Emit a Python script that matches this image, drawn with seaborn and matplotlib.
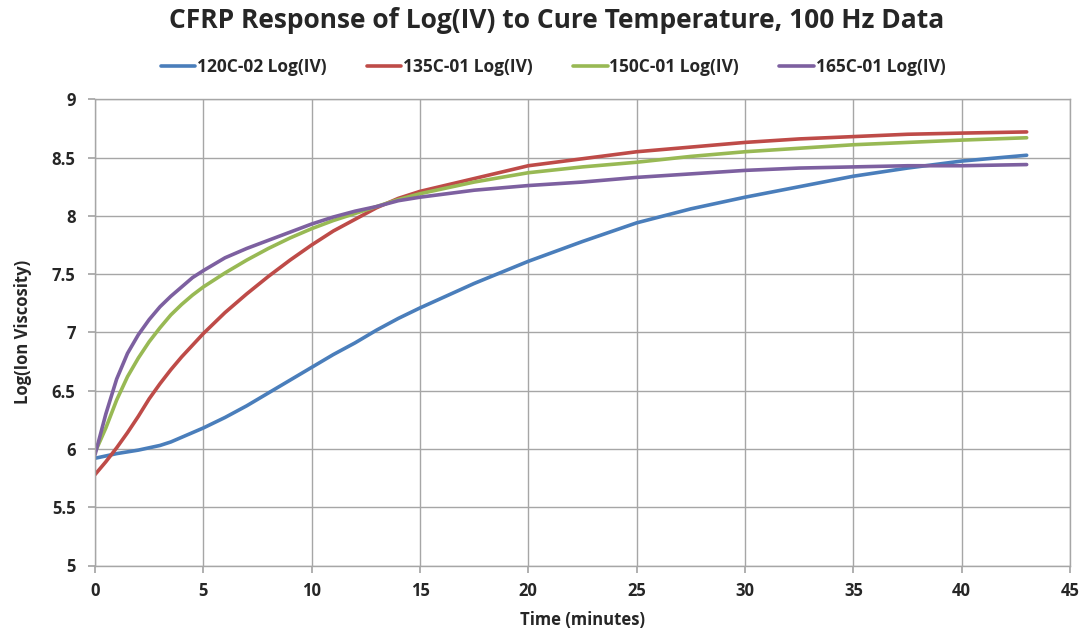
import matplotlib
matplotlib.use("Agg")
import matplotlib.pyplot as plt
import seaborn as sns
import pandas as pd

time_min = [0, 0.5, 1, 1.5, 2, 2.5, 3, 3.5, 4, 4.5, 5, 6, 7, 8, 9, 10, 11, 12, 13, 14, 15,
            17.5, 20, 22.5, 25, 27.5, 30, 32.5, 35, 37.5, 40, 43]

iv_120c = [5.92, 5.94, 5.96, 5.975, 5.99, 6.01, 6.03, 6.06, 6.10, 6.14, 6.18, 6.27, 6.37, 6.48,
           6.59, 6.70, 6.81, 6.91, 7.02, 7.12, 7.21, 7.42, 7.61, 7.78, 7.94, 8.06, 8.16, 8.25,
           8.34, 8.41, 8.47, 8.52]
iv_135c = [5.78, 5.89, 6.01, 6.14, 6.28, 6.43, 6.56, 6.68, 6.79, 6.89, 6.99, 7.17, 7.33, 7.48,
           7.62, 7.75, 7.87, 7.97, 8.07, 8.15, 8.21, 8.32, 8.43, 8.49, 8.55, 8.59, 8.63, 8.66,
           8.68, 8.70, 8.71, 8.72]
iv_150c = [5.97, 6.18, 6.42, 6.62, 6.78, 6.92, 7.04, 7.15, 7.24, 7.32, 7.39, 7.51, 7.62, 7.72,
           7.81, 7.89, 7.96, 8.02, 8.08, 8.14, 8.19, 8.29, 8.37, 8.42, 8.46, 8.51, 8.55, 8.58,
           8.61, 8.63, 8.65, 8.67]
iv_165c = [5.95, 6.30, 6.60, 6.82, 6.98, 7.11, 7.22, 7.31, 7.39, 7.47, 7.53, 7.64, 7.72, 7.79,
           7.86, 7.93, 7.99, 8.04, 8.08, 8.13, 8.16, 8.22, 8.26, 8.29, 8.33, 8.36, 8.39, 8.41,
           8.42, 8.43, 8.43, 8.44]

series_names = ["120C-02 Log(IV)", "135C-01 Log(IV)", "150C-01 Log(IV)", "165C-01 Log(IV)"]
series_values = [iv_120c, iv_135c, iv_150c, iv_165c]
colors = ["#4a7ebb", "#be4b48", "#98b954", "#7d60a0"]

x_ticks = [0, 5, 10, 15, 20, 25, 30, 35, 40, 45]
y_ticks = [5, 5.5, 6, 6.5, 7, 7.5, 8, 8.5, 9]

rows = []
for name, vals in zip(series_names, series_values):
    for t, v in zip(time_min, vals):
        rows.append({"Time": t, "LogIV": v, "Series": name})
df = pd.DataFrame(rows)

sns.set_theme(style="white")
plt.rcParams["font.family"] = ["Open Sans", "DejaVu Sans"]

fig = plt.figure(figsize=(10.83, 6.35), dpi=100)
ax = fig.add_axes([95 / 1083, 1 - 565.5 / 635, (1070 - 95) / 1083, (565.5 - 99.3) / 635])

sns.lineplot(data=df, x="Time", y="LogIV", hue="Series", hue_order=series_names,
             palette=colors, linewidth=2.6, ax=ax, legend=True)

ax.set_xlim(0, 45)
ax.set_ylim(5, 9)
ax.set_xticks(x_ticks)
ax.set_yticks(y_ticks)
ax.set_xticklabels([str(v) for v in x_ticks], fontsize=12, fontweight="bold")
ax.set_yticklabels([f"{v:g}" for v in y_ticks], fontsize=12, fontweight="bold")
ax.grid(True, color="#a6a6a6", linewidth=1.0)
ax.set_axisbelow(True)
for s in ax.spines.values():
    s.set_color("#a6a6a6")
    s.set_linewidth(1.0)
ax.tick_params(axis="both", which="major", length=5, color="#a6a6a6", direction="out",
               bottom=True, left=True)
ax.tick_params(axis="y", pad=9)
ax.tick_params(axis="x", pad=7)

ax.set_xlabel("Time (minutes)", fontsize=12, fontweight="bold", labelpad=8)
ax.set_ylabel("Log(Ion Viscosity)", fontsize=12, fontweight="bold", labelpad=14)

fig.text(557 / 1083, 1 - 20 / 635, "CFRP Response of Log(IV) to Cure Temperature, 100 Hz Data",
         ha="center", va="center", fontsize=19, fontweight="bold")

sns.move_legend(ax, "center", bbox_to_anchor=(553 / 1083, 1 - 67 / 635),
                bbox_transform=fig.transFigure, ncol=4,
                frameon=False, title=None, handlelength=2.0, handletextpad=0.1,
                columnspacing=2.3, prop={"size": 12.5, "weight": "bold"})

fig.savefig("out.png", dpi=100)
